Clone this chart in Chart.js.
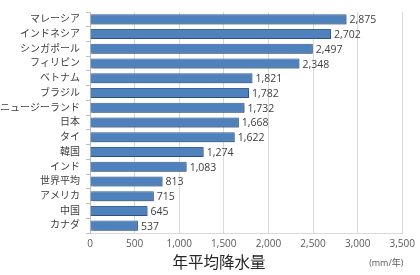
<!DOCTYPE html>
<html>
<head>
<meta charset="utf-8">
<script src="https://cdn.jsdelivr.net/npm/chart.js@4"></script>
<style>
html, body { margin: 0; padding: 0; background: #fff; }
#wrap { width: 420px; height: 275px; position: relative; }
</style>
</head>
<body>
<div id="wrap"><canvas id="rainChart"></canvas></div>
<script>
const countries = ["マレーシア", "インドネシア", "シンガポール", "フィリピン", "ベトナム", "ブラジル", "ニュージーランド", "日本", "タイ", "韓国", "インド", "世界平均", "アメリカ", "中国", "カナダ"]
const rainfall = [2875, 2702, 2497, 2348, 1821, 1782, 1732, 1668, 1622, 1274, 1083, 813, 715, 645, 537]
const xTicks = [0, 500, 1000, 1500, 2000, 2500, 3000, 3500]
const axisTitle = "年平均降水量"
const unitLabel = "(mm/年)"

const FONT = "'Open Sans', 'Noto Sans CJK JP', sans-serif"

const valueLabels = {
	id: "valueLabels",
	afterDatasetsDraw(chart) {
		const ctx = chart.ctx
		const meta = chart.getDatasetMeta(0)
		ctx.save()
		ctx.font = "10.5px " + FONT
		ctx.fillStyle = "#404040"
		ctx.textBaseline = "middle"
		meta.data.forEach((bar, i) => {
			ctx.fillText(rainfall[i].toLocaleString("en-US"), bar.x + 3, bar.y + 1)
		})
		// axis title sits left of centre in the original
		ctx.textAlign = "center"
		ctx.font = "15.5px " + FONT
		ctx.fillStyle = "#262626"
		ctx.fillText(axisTitle, 219, 264)
		// unit label under the right end of the axis
		ctx.font = "9px " + FONT
		ctx.fillStyle = "#595959"
		ctx.fillText(unitLabel, chart.chartArea.right - 16, 263)
		ctx.restore()
	}
}

const barShadow = {
	id: "barShadow",
	beforeDatasetsDraw(chart) {
		const ctx = chart.ctx
		ctx.save()
		ctx.shadowColor = "rgba(0,0,0,0.35)"
		ctx.shadowBlur = 2
		ctx.shadowOffsetX = 1
		ctx.shadowOffsetY = 1
	},
	afterDatasetsDraw(chart) {
		chart.ctx.restore()
	}
}

const rainChart = new Chart(document.getElementById("rainChart"), {
	type: "bar",
	data: {
		labels: countries,
		datasets: [{
			data: rainfall,
			backgroundColor: "#4f81bd",
			borderColor: "#3a6aa3",
			borderWidth: 1,
			barPercentage: 0.68,
			categoryPercentage: 1
		}]
	},
	options: {
		indexAxis: "y",
		responsive: true,
		maintainAspectRatio: false,
		animation: false,
		layout: { padding: { top: 6, right: 17, left: 0, bottom: 0 } },
		plugins: {
			legend: { display: false },
			tooltip: { enabled: false }
		},
		scales: {
			x: {
				min: 0,
				max: 3500,
				afterBuildTicks(axis) {
					axis.ticks = xTicks.map(v => ({ value: v }))
				},
				ticks: {
					color: "#595959",
					font: { family: FONT, size: 10 },
					padding: 5,
					maxRotation: 0,
					autoSkip: false,
					callback: v => v.toLocaleString("en-US")
				},
				grid: { color: "#d9d9d9", drawTicks: false },
				border: { color: "#d9d9d9" },
				afterFit(axis) { axis.height = 42 }
			},
			y: {
				ticks: {
					color: "#404040",
					font: { family: FONT, size: 10 },
					padding: 6,
					autoSkip: false
				},
				grid: { display: true, drawOnChartArea: false, offset: true, tickLength: 4, color: "#bfbfbf" },
				border: { color: "#bfbfbf" },
				afterFit(axis) { axis.width = 90 }
			}
		}
	},
	plugins: [barShadow, valueLabels]
})
</script>
</body>
</html>
